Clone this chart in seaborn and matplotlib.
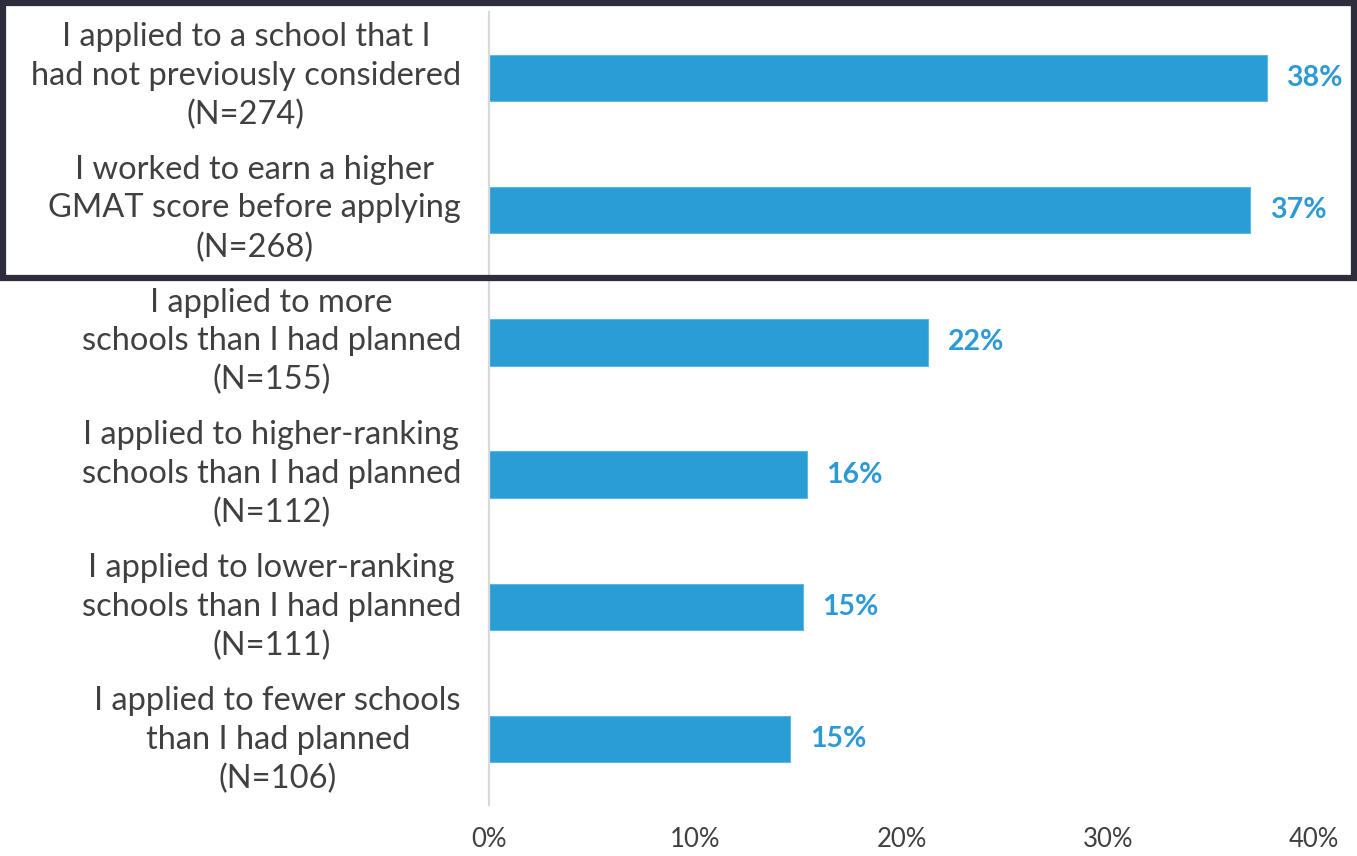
import pandas as pd
import seaborn as sns
import matplotlib.pyplot as plt
from matplotlib.patches import Rectangle

# Data
statements = [
    'I applied to a school that I\nhad not previously considered\n(N=274)',
    'I worked to earn a higher\nGMAT score before applying\n(N=268)',
    'I applied to more\nschools than I had planned\n(N=155)',
    'I applied to higher-ranking\nschools than I had planned\n(N=112)',
    'I applied to lower-ranking\nschools than I had planned\n(N=111)',
    'I applied to fewer schools\nthan I had planned\n(N=106)',
]
shares = [37.7, 36.9, 21.3, 15.4, 15.2, 14.6]
share_labels = ['38%', '37%', '22%', '16%', '15%', '15%']
x_ticks = [0, 10, 20, 30, 40]
x_tick_labels = ['0%', '10%', '20%', '30%', '40%']

df = pd.DataFrame({'statement': statements, 'share': shares})

sns.set_style('white')
plt.rcParams['font.family'] = ['Lato', 'DejaVu Sans']

bar_color = '#2B9DD6'
text_color = '#404040'

fig = plt.figure(figsize=(13.57, 8.56), dpi=100)
ax = fig.add_axes([0.3604, 0.0596, 0.608, 0.9264])

sns.barplot(data=df, x='share', y='statement', orient='h', color=bar_color,
            width=0.35, saturation=1, edgecolor='#5DB6E3', linewidth=0.8, ax=ax)

# value labels
for i, (v, lab) in enumerate(zip(shares, share_labels)):
    ax.text(v + 0.95, i, lab, va='center', ha='left', color='#2E9AD4',
            fontsize=20.5, fontweight='bold')

ax.set_xlim(0, 40)
ax.set_ylim(5.5, -0.5)
ax.set_xticks(x_ticks)
ax.set_xticklabels(x_tick_labels, fontsize=18.5, color=text_color)
ax.set_yticks(range(len(statements)))
ax.set_yticklabels([])
ax.set_xlabel('')
ax.set_ylabel('')
ax.tick_params(axis='x', length=0, pad=16)
ax.tick_params(axis='y', length=0)

for s in ['top', 'right', 'bottom']:
    ax.spines[s].set_visible(False)
ax.spines['left'].set_color('#D9D9D9')
ax.spines['left'].set_linewidth(1.6)

# category labels: right-aligned blocks with centred lines
for i, s in enumerate(statements):
    fig.text(461 / 1357, 1 - (76 + i * 132.8) / 856, s, ha='right', va='center',
             multialignment='center', fontsize=23.5, color=text_color, linespacing=1.36)

# dark frame around the top two rows
fig.patches.append(Rectangle((3 / 1357, 1 - 278 / 856), 1351 / 1357, 275 / 856,
                             transform=fig.transFigure, fill=False,
                             edgecolor='#2D2D3C', linewidth=4.5, zorder=10))

fig.savefig('out.png', dpi=100)
